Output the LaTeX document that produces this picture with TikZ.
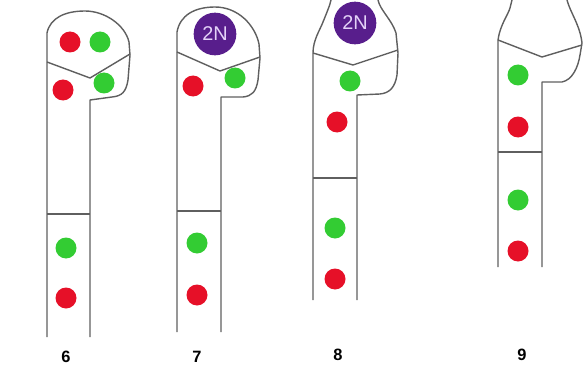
\documentclass[tikz,border=0pt]{standalone}
\usepackage{fontspec}
\setmainfont{Liberation Sans}
\definecolor{cellgreen}{RGB}{51,204,51}
\definecolor{cellred}{RGB}{230,16,40}
\definecolor{nucpurple}{RGB}{88,30,140}
\definecolor{nuctext}{RGB}{228,210,248}
\definecolor{wallgray}{RGB}{95,95,95}

\begin{document}
\begin{tikzpicture}[x=0.03cm, y=-0.03cm]
\tikzstyle{every node} = [font = \bfseries\fontsize{14}{16}\selectfont]
\tikzstyle{wall} = [draw=wallgray, line width=1.2pt, line join=round]
\tikzstyle{nucleus} = [circle, fill=nucpurple, text=nuctext, inner sep=0pt, minimum size=1.28cm, font=\fontsize{17}{18}\selectfont]
\useasboundingbox (0,0) rectangle (587,368);

% cell 6
\draw [wall] (47,337) -- (47,33) .. controls (50,18) and (65,11) .. (85,11) .. controls (105,11) and (125,25) .. (129,42) -- (130,55) -- (128,80) .. controls (126,92) and (122,96) .. (112,97) -- (90,100) -- (90,337);
\draw [wall] (47,62) -- (90,78) -- (130,54); %head
\draw [wall] (47,214) -- (90,214); %septum
\fill [cellred] (70,42) circle (10.5);
\fill [cellgreen] (100,42) circle (10.5);
\fill [cellred] (63,90) circle (10.5);
\fill [cellgreen] (104,83) circle (10.5);

% cell 7
\draw [wall] (177,332) -- (177,32) .. controls (180,15) and (195,7) .. (215,7) .. controls (238,7) and (255,25) .. (259,44) -- (260,58) -- (258,80) .. controls (256,92) and (252,96) .. (243,97) -- (221,97) -- (221,332);
\draw [wall] (177,52) -- (220,71) -- (260,57); %head
\draw [wall] (177,211) -- (221,211); %septum
\node [nucleus] (n7) at (215,34) {2N};
\fill [cellred] (193,86) circle (10.5);
\fill [cellgreen] (235,78) circle (10.5);

% cell 8
\draw [wall] (313,300) -- (313,53) .. controls (313,40) and (320,30) .. (323,22) .. controls (327,12) and (330,5) .. (331,0);
\draw [wall] (378,0) .. controls (380,10) and (392,20) .. (396,33) -- (398,53) -- (397,75) .. controls (395,87) and (390,93) .. (380,94) -- (357,95) -- (357,300);
\draw [wall] (313,53) -- (353,65) -- (398,50); %head
\draw [wall] (313,178) -- (357,178); %septum
\node [nucleus] (n8) at (355,23) {2N};
\fill [cellgreen] (350,81) circle (10.5);
\fill [cellred] (337,122) circle (10.5);

% cell 9
\draw [wall] (498,267) -- (498,40) .. controls (500,25) and (508,15) .. (510,8) -- (512,0);
\draw [wall] (567,0) .. controls (570,12) and (580,25) .. (582,43) -- (580,55) .. controls (578,68) and (572,80) .. (562,82) -- (542,82) -- (542,267);
\draw [wall] (498,40) -- (542,57) -- (582,45); %head
\draw [wall] (498,152) -- (542,152); %septum
\fill [cellgreen] (518,75) circle (10.5);
\fill [cellred] (518,127) circle (10.5);

% lower compartments
\foreach \x/\g/\r in {66/248/298, 197/243/295, 335/228/279, 518/200/251}
{
	\fill [cellgreen] (\x,\g) circle (10.5);
	\fill [cellred] (\x,\r) circle (10.5);
}

\node (l6) at (66,357) {6};
\node (l7) at (197,357) {7};
\node (l8) at (338,355) {8};
\node (l9) at (522,355) {9};
\end{tikzpicture}
\end{document}
